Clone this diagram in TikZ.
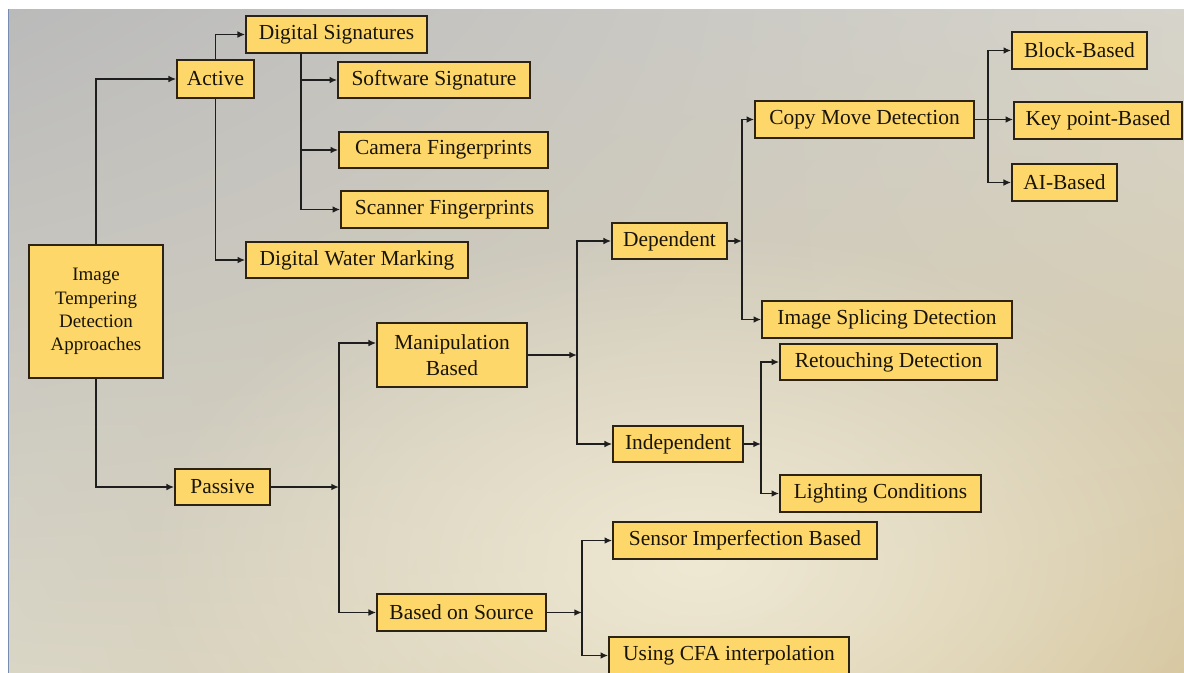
\documentclass[tikz,border=0pt]{standalone}
\usepackage{fontspec}
\setmainfont{Liberation Serif}
\usetikzlibrary{arrows.meta,fadings,shadings}

\definecolor{boxfill}{RGB}{253,215,105}
\definecolor{boxline}{RGB}{45,35,20}
\definecolor{linecol}{RGB}{30,30,30}
\definecolor{txtcol}{RGB}{25,20,10}
\definecolor{bgUL}{RGB}{186,186,186}
\definecolor{bgUR}{RGB}{214,212,203}
\definecolor{bgLL}{RGB}{218,214,198}
\definecolor{bgLR}{RGB}{214,198,158}
\definecolor{bgHi}{RGB}{242,236,216}
\definecolor{edgecol}{RGB}{120,140,178}

\tikzfading[name=glow, inner color=transparent!0, outer color=transparent!100]

\tikzset{
  box/.style={draw=boxline, fill=boxfill, line width=0.9pt, inner sep=0pt,
    text=txtcol, align=center, minimum height=0.74cm,
    font=\fontsize{12.2}{14.7}\selectfont},
  arr/.style={draw=linecol, line width=0.9pt, -{Latex[length=4.4pt,width=3.8pt]}}
}

\begin{document}
\begin{tikzpicture}[x=0.02cm, y=-0.02cm]
  \useasboundingbox (0,0) rectangle (1184,673);
  \clip (0,0) rectangle (1184,673);

  %%%%%%%%%%%%%Background%%%%%%%%%%%%%%%%%%%%%%
  \fill[white] (0,0) rectangle (1184,673);
  \shade[upper left=bgUL, upper right=bgUR, lower left=bgLL, lower right=bgLR]
    (9,9) rectangle (1184,673);
  \fill[bgHi, path fading=glow, opacity=0.9] (700,560) ellipse (560 and 330);
  \draw[edgecol, line width=0.04cm] (8.5,9) -- (8.5,673);

  %%%%%%%%%%%%%Nodes%%%%%%%%%%%%%%%%%%%%%%
  \node[box, minimum width=2.68cm, minimum height=2.66cm,
        font=\fontsize{10.8}{13.2}\selectfont] (root) at (96,311.5)
        {Image\\Tempering\\Detection\\Approaches};

  \node[box, minimum width=1.54cm, minimum height=0.76cm] (active) at (215.5,79) {Active};
  \node[box, minimum width=3.62cm] (digsig) at (336.5,34.5) {Digital Signatures};
  \node[box, minimum width=3.84cm, minimum height=0.72cm] (software) at (434,80) {Software Signature};
  \node[box, minimum width=4.18cm, minimum height=0.72cm] (camera) at (443.5,150) {Camera Fingerprints};
  \node[box, minimum width=4.14cm] (scanner) at (444.5,209.5) {Scanner Fingerprints};
  \node[box, minimum width=4.44cm, minimum height=0.72cm] (water) at (357,260) {Digital Water Marking};

  \node[box, minimum width=1.90cm, minimum height=0.72cm] (passive) at (222.5,487) {Passive};
  \node[box, minimum width=3.00cm, minimum height=1.28cm,
        font=\fontsize{12.2}{14.8}\selectfont] (manip) at (452,355) {Manipulation\\Based};
  \node[box, minimum width=3.38cm] (source) at (461.5,612.5) {Based on Source};

  \node[box, minimum width=2.30cm, minimum height=0.72cm] (dep) at (669.5,241) {Dependent};
  \node[box, minimum width=2.60cm, minimum height=0.72cm] (indep) at (678,444) {Independent};

  \node[box, minimum width=4.38cm] (copy) at (864.5,119.5) {Copy Move Detection};
  \node[box, minimum width=5.00cm] (splice) at (887,319.5) {Image Splicing Detection};
  \node[box, minimum width=2.70cm] (block) at (1079.5,50.5) {Block-Based};
  \node[box, minimum width=3.36cm] (key) at (1098,120.5) {Key point-Based};
  \node[box, minimum width=2.10cm] (ai) at (1064.5,182.5) {AI-Based};

  \node[box, minimum width=4.34cm, minimum height=0.72cm] (retouch) at (888.5,362) {Retouching Detection};
  \node[box, minimum width=4.02cm] (light) at (880.5,493.5) {Lighting Conditions};

  \node[box, minimum width=5.28cm] (sensor) at (745,540.5) {Sensor Imperfection Based};
  \node[box, minimum width=4.80cm] (cfa) at (729,655.5) {Using CFA interpolation};

  %%%%%%%%%%%%%Junctions%%%%%%%%%%%%%%%%%%%%%%
  \coordinate (dsbus) at (301,53);
  \coordinate (pbus) at (339,487);
  \coordinate (manin) at ([yshift=0.24cm]manip.west);
  \coordinate (mbus) at (577,355);
  \coordinate (dbus) at (742,241);
  \coordinate (cbus) at (988,119.5);
  \coordinate (ibus) at (761,444);
  \coordinate (sbus) at (582,612.5);

  %%%%%%%%%%%%%Active branch%%%%%%%%%%%%%%%%%%%%%%
  \draw[arr] (root.north) |- (active.west);
  \draw[arr] (active.north) |- (digsig.west);
  \draw[arr] (active.south) |- (water.west);
  \draw[arr] (dsbus) |- (scanner.west);
  \draw[arr] (dsbus |- software.west) -- (software.west);
  \draw[arr] (dsbus |- camera.west) -- (camera.west);

  %%%%%%%%%%%%%Passive branch%%%%%%%%%%%%%%%%%%%%%%
  \draw[arr] (root.south) |- (passive.west);
  \draw[arr] (passive.east) -- (pbus);
  \draw[arr] (pbus) |- (manin);
  \draw[arr] (pbus) |- (source.west);

  \draw[arr] (manip.east) -- (mbus);
  \draw[arr] (mbus) |- (dep.west);
  \draw[arr] (mbus) |- (indep.west);

  \draw[arr] (dep.east) -- (dbus);
  \draw[arr] (dbus) |- (copy.west);
  \draw[arr] (dbus) |- (splice.west);

  \draw[arr] (copy.east) -- (copy.east -| key.west);
  \draw[arr] (cbus) |- (block.west);
  \draw[arr] (cbus) |- (ai.west);

  \draw[arr] (indep.east) -- (ibus);
  \draw[arr] (ibus) |- (retouch.west);
  \draw[arr] (ibus) |- (light.west);

  \draw[arr] (source.east) -- (sbus);
  \draw[arr] (sbus) |- (sensor.west);
  \draw[arr] (sbus) |- (cfa.west);
\end{tikzpicture}
\end{document}
